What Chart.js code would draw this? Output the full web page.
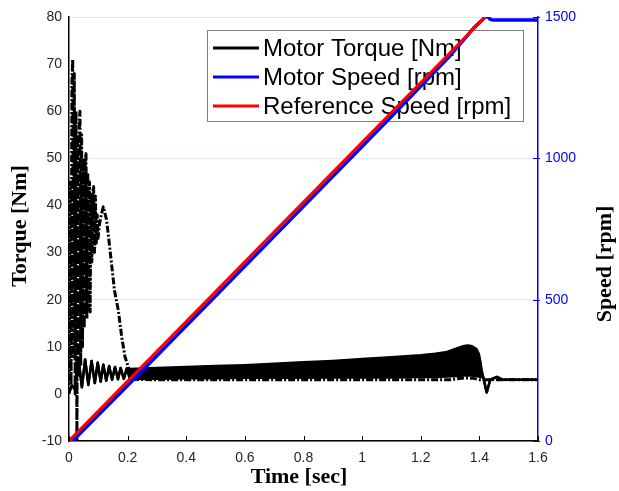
<!DOCTYPE html>
<html>
<head>
<meta charset="utf-8">
<script src="https://cdn.jsdelivr.net/npm/chart.js@4.4.1/dist/chart.umd.min.js"></script>
<style>
  html, body { margin: 0; padding: 0; background: #fff; }
</style>
</head>
<body>
<canvas id="c" width="619" height="491"></canvas>
<script>
// ---- data ----
var xTicks = [0, 0.2, 0.4, 0.6, 0.8, 1, 1.2, 1.4, 1.6];

// motor torque: early ripple (upper == lower), then a dense band (upper / lower envelope)
var torqueTime  = [0, 0.01, 0.021, 0.032, 0.044, 0.055, 0.066, 0.077, 0.088, 0.098, 0.108, 0.117, 0.127, 0.137, 0.147, 0.157, 0.167, 0.176, 0.187, 0.197,
                   0.207, 0.3, 0.4, 0.5, 0.6, 0.7, 0.8, 0.9, 1.0, 1.1, 1.2, 1.25, 1.29, 1.33, 1.345, 1.36, 1.375, 1.39, 1.398, 1.403, 1.408, 1.413,
                   1.425, 1.437, 1.46, 1.48, 1.6];
var torqueUpper = [0.2, 1.8, 0.9, 7.6, 1.4, 7.3, 1.9, 7.0, 2.3, 6.6, 2.6, 6.2, 2.8, 5.9, 3.0, 5.7, 3.1, 5.5, 3.2, 5.4,
                   5.3, 5.5, 5.7, 5.9, 6.1, 6.4, 6.7, 7.0, 7.4, 7.8, 8.2, 8.5, 8.9, 9.8, 10.1, 10.3, 10.1, 9.5, 8.5, 7.0, 5.0, 3.6,
                   0.3, 3.0, 3.6, 3.0, 3.0];
var torqueLower = [0.2, 1.8, 0.9, 7.6, 1.4, 7.3, 1.9, 7.0, 2.3, 6.6, 2.6, 6.2, 2.8, 5.9, 3.0, 5.7, 3.1, 5.5, 3.2, 5.4,
                   3.2, 3.2, 3.3, 3.3, 3.4, 3.4, 3.4, 3.5, 3.5, 3.5, 3.6, 3.6, 3.7, 3.8, 3.9, 3.9, 3.9, 3.8, 3.7, 3.6, 3.6, 3.6,
                   0.3, 3.0, 3.6, 3.0, 3.0];

// dash-dot torque trace (dense start-up oscillation)
var dashTime   = [0, 0.004, 0.007, 0.010, 0.0126, 0.015, 0.018, 0.021, 0.024, 0.027, 0.030, 0.033, 0.0355, 0.0375, 0.040, 0.043, 0.046, 0.049, 0.052,
                  0.055, 0.058, 0.061, 0.064, 0.067, 0.070, 0.072, 0.075, 0.078, 0.081, 0.084, 0.087, 0.090, 0.093, 0.096, 0.099, 0.104, 0.110, 0.117,
                  0.128, 0.14, 0.155, 0.168, 0.18, 0.191, 0.202, 0.215, 0.3, 1.3, 1.35, 1.38, 1.4, 1.6];
var dashTorque = [0, 45, 2, 66, 71, 8, 68, 0, 60, -9.8, 55, 4, 58, 60, 6, 55, 10, 50, 14,
                  49, 51, 16, 47, 18, 45, 17.4, 42, 28, 43, 44, 30, 42, 32, 38, 33, 36, 38, 39.7,
                  37, 30.5, 22, 17.8, 12, 7.9, 5.8, 3.1, 3.0, 3.0, 3.4, 3.3, 3.0, 3.0];

// speeds (right axis, rpm)
var speedTime  = [0, 0.015, 0.2, 0.5, 0.8, 1.1, 1.3, 1.38, 1.42, 1.428, 1.438, 1.45, 1.6];
var motorSpeed = [0, 3, 196, 513, 830, 1148, 1363, 1460, 1500, 1502, 1491, 1489, 1489];
var refTime    = [0, 1.42];
var refSpeed   = [0, 1500];

var legendItems = ['Motor Torque [Nm]', 'Motor Speed [rpm]', 'Reference Speed [rpm]'];

function pts(xs, ys) {
    return xs.map(function (x, i) { return { x: x, y: ys[i] }; });
}

var sans  = "'Liberation Sans', Arial, sans-serif";
var serif = "'Liberation Serif', 'Times New Roman', serif";
var blue  = '#0000ff';
var red   = '#ff0000';

// legend drawn inside the plot, below the data lines
var insideLegend = {
    id: 'insideLegend',
    beforeDatasetsDraw: function (chart) {
        var ctx = chart.ctx;
        var box = { left: 207, top: 30, width: 316, height: 91 };
        ctx.save();
        ctx.fillStyle = '#fff';
        ctx.fillRect(box.left, box.top, box.width, box.height);
        ctx.strokeStyle = '#7f7f7f';
        ctx.lineWidth = 1;
        ctx.strokeRect(box.left + 0.5, box.top + 0.5, box.width, box.height);
        ctx.font = '24px ' + sans;
        ctx.textBaseline = 'middle';
        ctx.fillStyle = '#000';
        var shown = chart.data.datasets.filter(function (d) { return legendItems.indexOf(d.label) >= 0; });
        shown.sort(function (a, b) { return legendItems.indexOf(a.label) - legendItems.indexOf(b.label); });
        shown.forEach(function (d, i) {
            var y = box.top + 18 + i * 29;
            ctx.strokeStyle = d.borderColor;
            ctx.lineWidth = 3;
            ctx.setLineDash([]);
            ctx.beginPath();
            ctx.moveTo(box.left + 6, y);
            ctx.lineTo(box.left + 52, y);
            ctx.stroke();
            ctx.fillText(d.label, box.left + 56, y + 1);
        });
        ctx.restore();
    }
};

// inward tick marks + axis titles
var decorations = {
    id: 'decorations',
    afterDatasetsDraw: function (chart) {
        var ctx = chart.ctx;
        var a = chart.chartArea;
        var xs = chart.scales.x, y2 = chart.scales.y2;
        ctx.save();
        ctx.lineWidth = 1;
        ctx.strokeStyle = '#000';
        xs.ticks.forEach(function (t) {
            var px = Math.round(xs.getPixelForValue(t.value)) + 0.5;
            ctx.beginPath();
            ctx.moveTo(px, a.bottom);
            ctx.lineTo(px, a.bottom - 5);
            ctx.stroke();
        });
        ctx.strokeStyle = blue;
        y2.ticks.forEach(function (t) {
            var py = Math.round(y2.getPixelForValue(t.value)) + 0.5;
            ctx.beginPath();
            ctx.moveTo(a.right - 5, py);
            ctx.lineTo(a.right + 2, py);
            ctx.stroke();
        });
        ctx.restore();
    },
    afterDraw: function (chart) {
        var ctx = chart.ctx;
        ctx.save();
        ctx.fillStyle = '#000';
        ctx.font = 'bold 22px ' + serif;
        ctx.textAlign = 'center';
        ctx.textBaseline = 'middle';
        ctx.fillText('Time [sec]', 299, 477);
        ctx.translate(20, 226);
        ctx.rotate(-Math.PI / 2);
        ctx.fillText('Torque [Nm]', 0, 0);
        ctx.restore();
        ctx.save();
        ctx.fillStyle = '#000';
        ctx.font = 'bold 22px ' + serif;
        ctx.textAlign = 'center';
        ctx.textBaseline = 'middle';
        ctx.translate(605, 264);
        ctx.rotate(-Math.PI / 2);
        ctx.fillText('Speed [rpm]', 0, 0);
        ctx.restore();
    }
};

new Chart(document.getElementById('c').getContext('2d'), {
    type: 'line',
    data: {
        datasets: [{
            label: 'Reference Speed [rpm]',
            data: pts(refTime, refSpeed),
            yAxisID: 'y2',
            borderColor: red,
            borderWidth: 3,
            order: 0
        }, {
            label: 'Motor Speed [rpm]',
            data: pts(speedTime, motorSpeed),
            yAxisID: 'y2',
            borderColor: blue,
            borderWidth: 3.5,
            order: 1
        }, {
            label: 'Motor Torque [Nm]',
            data: pts(torqueTime, torqueUpper),
            yAxisID: 'y',
            borderColor: '#000',
            backgroundColor: '#000',
            borderWidth: 2.5,
            fill: '+1',
            order: 2
        }, {
            label: 'torque lower',
            data: pts(torqueTime, torqueLower),
            yAxisID: 'y',
            borderColor: '#000',
            borderWidth: 2.5,
            order: 3
        }, {
            label: 'torque dash-dot',
            data: pts(dashTime, dashTorque),
            yAxisID: 'y',
            borderColor: '#000',
            borderWidth: 3,
            borderDash: [7, 2, 2, 2],
            order: 4
        }]
    },
    options: {
        responsive: false,
        animation: false,
        events: [],
        elements: { point: { radius: 0 }, line: { tension: 0, borderCapStyle: 'butt', borderJoinStyle: 'round' } },
        layout: { padding: { top: 17, left: 0, right: 0, bottom: 0 } },
        plugins: { legend: { display: false }, tooltip: { enabled: false } },
        scales: {
            x: {
                type: 'linear',
                min: 0, max: 1.6,
                afterBuildTicks: function (s) { s.ticks = xTicks.map(function (v) { return { value: v }; }); },
                afterFit: function (s) { s.height = 50; },
                grid: { drawOnChartArea: false, drawTicks: false },
                border: { color: '#000', width: 1.5 },
                ticks: {
                    padding: 9,
                    color: '#262626',
                    font: { family: sans, size: 14 },
                    maxRotation: 0,
                    callback: function (v) { return String(Number(v.toFixed(1))); }
                }
            },
            y: {
                position: 'left',
                min: -10, max: 80,
                afterFit: function (s) { s.width = 69; },
                grid: { drawOnChartArea: false, drawTicks: false },
                border: { color: '#000', width: 1.5 },
                ticks: { stepSize: 10, padding: 7, color: '#262626', font: { family: sans, size: 14 } }
            },
            y2: {
                position: 'right',
                min: 0, max: 1500,
                afterFit: function (s) { s.width = 81; },
                grid: { drawOnChartArea: true, drawTicks: false, color: '#e4e4fa', lineWidth: 1 },
                border: { color: blue, width: 1.5 },
                ticks: {
                    stepSize: 500, padding: 7, color: blue, font: { family: sans, size: 14 },
                    callback: function (v) { return String(v); }
                }
            }
        }
    },
    plugins: [insideLegend, decorations]
});
</script>
</body>
</html>
